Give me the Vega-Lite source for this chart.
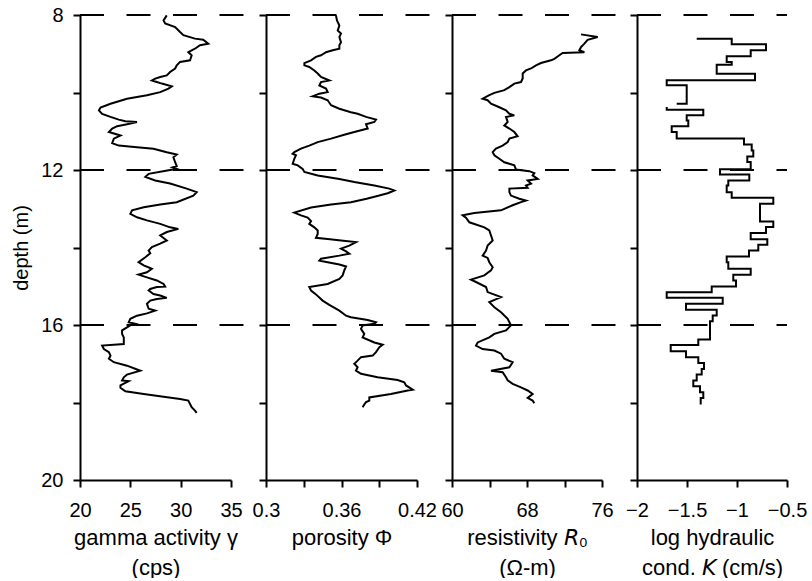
{
  "$schema": "https://vega.github.io/schema/vega-lite/v6.json",
  "padding": {"left": 11, "top": 5, "right": 5, "bottom": 0},
  "config": {
    "font": "Liberation Sans",
    "view": {"stroke": null},
    "axis": {"domainColor": "#000", "domainWidth": 2, "tickColor": "#000", "tickWidth": 2, "tickSize": 7, "labelColor": "#000", "titleColor": "#000", "labelFontSize": 20, "titleFontSize": 22, "titleFontWeight": "normal", "grid": false, "labelFlush": false, "labelOverlap": false},
    "axisX": {"labelPadding": 13, "titlePadding": 7, "titleLineHeight": 30, "titleColor": "#000"},
    "axisY": {"labelPadding": 10, "titlePadding": 9, "titleFontSize": 20, "titleColor": "#000"}
  },
  "datasets": {
    "dash": [{"d": 8}, {"d": 12}, {"d": 16}],
    "gamma": [
      {"d":8.01,"v":28.62},{"d":8.14,"v":28.30},{"d":8.22,"v":28.46},{"d":8.31,"v":29.45},{"d":8.44,"v":29.94},{"d":8.52,"v":30.27},{"d":8.61,"v":31.42},{"d":8.64,"v":32.24},{"d":8.74,"v":32.74},{"d":8.78,"v":31.92},{"d":8.87,"v":31.42},{"d":8.91,"v":31.09},{"d":8.96,"v":30.76},{"d":9.04,"v":31.09},{"d":9.17,"v":30.93},{"d":9.21,"v":29.94},{"d":9.30,"v":29.61},{"d":9.38,"v":29.45},{"d":9.47,"v":28.95},{"d":9.56,"v":28.62},{"d":9.60,"v":27.97},{"d":9.64,"v":27.47},{"d":9.69,"v":27.14},{"d":9.73,"v":27.63},{"d":9.77,"v":28.13},{"d":9.84,"v":29.12},{"d":9.90,"v":28.79},{"d":9.99,"v":27.97},{"d":10.07,"v":26.65},{"d":10.16,"v":24.67},{"d":10.29,"v":23.03},{"d":10.39,"v":22.04},{"d":10.46,"v":21.88},{"d":10.55,"v":22.20},{"d":10.63,"v":23.03},{"d":10.70,"v":23.85},{"d":10.74,"v":24.51},{"d":10.76,"v":25.66},{"d":10.82,"v":24.67},{"d":10.87,"v":23.69},{"d":10.93,"v":23.20},{"d":11.02,"v":22.87},{"d":11.06,"v":23.36},{"d":11.11,"v":24.02},{"d":11.19,"v":23.36},{"d":11.31,"v":23.20},{"d":11.37,"v":23.85},{"d":11.41,"v":25.66},{"d":11.45,"v":27.30},{"d":11.54,"v":28.62},{"d":11.60,"v":29.61},{"d":11.67,"v":29.28},{"d":11.80,"v":29.45},{"d":11.90,"v":29.61},{"d":11.93,"v":29.20},{"d":11.97,"v":29.60},{"d":12.10,"v":26.82},{"d":12.18,"v":26.49},{"d":12.27,"v":27.47},{"d":12.35,"v":28.95},{"d":12.48,"v":30.60},{"d":12.57,"v":31.59},{"d":12.66,"v":31.26},{"d":12.83,"v":29.61},{"d":12.89,"v":27.97},{"d":12.96,"v":26.33},{"d":13.04,"v":25.17},{"d":13.13,"v":25.00},{"d":13.22,"v":25.66},{"d":13.30,"v":26.65},{"d":13.39,"v":27.97},{"d":13.48,"v":28.95},{"d":13.52,"v":29.77},{"d":13.60,"v":28.62},{"d":13.69,"v":27.97},{"d":13.82,"v":28.62},{"d":13.90,"v":27.97},{"d":13.99,"v":27.14},{"d":14.08,"v":26.82},{"d":14.15,"v":26.98},{"d":14.25,"v":26.49},{"d":14.38,"v":25.82},{"d":14.46,"v":26.33},{"d":14.55,"v":27.14},{"d":14.64,"v":26.65},{"d":14.70,"v":25.82},{"d":14.77,"v":26.65},{"d":14.85,"v":27.63},{"d":14.94,"v":28.30},{"d":15.01,"v":28.46},{"d":15.02,"v":27.63},{"d":15.07,"v":26.98},{"d":15.11,"v":26.82},{"d":15.20,"v":27.30},{"d":15.24,"v":27.97},{"d":15.30,"v":28.62},{"d":15.33,"v":27.63},{"d":15.37,"v":26.98},{"d":15.45,"v":26.65},{"d":15.58,"v":26.82},{"d":15.63,"v":27.47},{"d":15.70,"v":26.65},{"d":15.76,"v":25.66},{"d":15.84,"v":25.00},{"d":15.93,"v":24.84},{"d":15.97,"v":25.50},{"d":16.01,"v":25.00},{"d":16.06,"v":24.67},{"d":16.14,"v":24.18},{"d":16.23,"v":24.18},{"d":16.32,"v":24.35},{"d":16.49,"v":24.35},{"d":16.53,"v":22.20},{"d":16.62,"v":22.37},{"d":16.70,"v":22.87},{"d":16.79,"v":23.03},{"d":16.87,"v":22.87},{"d":16.96,"v":23.36},{"d":17.05,"v":24.67},{"d":17.18,"v":25.99},{"d":17.28,"v":24.67},{"d":17.35,"v":24.35},{"d":17.43,"v":24.18},{"d":17.45,"v":24.84},{"d":17.56,"v":24.02},{"d":17.62,"v":24.02},{"d":17.71,"v":24.51},{"d":17.78,"v":26.33},{"d":17.85,"v":28.30},{"d":17.91,"v":29.94},{"d":17.95,"v":30.76},{"d":18.04,"v":30.93},{"d":18.12,"v":31.09},{"d":18.21,"v":31.42},{"d":18.27,"v":31.59}
    ],
    "porosity": [
      {"d":8.01,"v":0.3556},{"d":8.14,"v":0.3564},{"d":8.27,"v":0.3583},{"d":8.40,"v":0.3570},{"d":8.48,"v":0.3596},{"d":8.57,"v":0.3583},{"d":8.70,"v":0.3596},{"d":8.78,"v":0.3583},{"d":8.87,"v":0.3583},{"d":8.91,"v":0.3530},{"d":8.96,"v":0.3477},{"d":9.04,"v":0.3437},{"d":9.08,"v":0.3397},{"d":9.17,"v":0.3358},{"d":9.24,"v":0.3305},{"d":9.30,"v":0.3305},{"d":9.34,"v":0.3344},{"d":9.43,"v":0.3384},{"d":9.51,"v":0.3411},{"d":9.60,"v":0.3437},{"d":9.69,"v":0.3503},{"d":9.73,"v":0.3437},{"d":9.82,"v":0.3424},{"d":9.90,"v":0.3477},{"d":9.99,"v":0.3490},{"d":10.03,"v":0.3424},{"d":10.10,"v":0.3371},{"d":10.13,"v":0.3437},{"d":10.20,"v":0.3490},{"d":10.33,"v":0.3517},{"d":10.42,"v":0.3583},{"d":10.51,"v":0.3675},{"d":10.55,"v":0.3728},{"d":10.63,"v":0.3795},{"d":10.70,"v":0.3874},{"d":10.76,"v":0.3861},{"d":10.82,"v":0.3795},{"d":10.93,"v":0.3808},{"d":11.02,"v":0.3702},{"d":11.09,"v":0.3622},{"d":11.19,"v":0.3517},{"d":11.28,"v":0.3411},{"d":11.37,"v":0.3344},{"d":11.45,"v":0.3278},{"d":11.54,"v":0.3225},{"d":11.58,"v":0.3212},{"d":11.62,"v":0.3238},{"d":11.71,"v":0.3225},{"d":11.84,"v":0.3212},{"d":11.88,"v":0.3252},{"d":11.97,"v":0.3291},{"d":12.05,"v":0.3305},{"d":12.14,"v":0.3411},{"d":12.23,"v":0.3583},{"d":12.31,"v":0.3702},{"d":12.40,"v":0.3861},{"d":12.48,"v":0.3980},{"d":12.53,"v":0.4020},{"d":12.60,"v":0.3967},{"d":12.66,"v":0.3900},{"d":12.74,"v":0.3800},{"d":12.83,"v":0.3675},{"d":12.89,"v":0.3517},{"d":12.97,"v":0.3358},{"d":13.10,"v":0.3225},{"d":13.17,"v":0.3278},{"d":13.23,"v":0.3331},{"d":13.32,"v":0.3358},{"d":13.39,"v":0.3344},{"d":13.48,"v":0.3384},{"d":13.56,"v":0.3411},{"d":13.65,"v":0.3411},{"d":13.75,"v":0.3397},{"d":13.78,"v":0.3490},{"d":13.82,"v":0.3596},{"d":13.86,"v":0.3715},{"d":13.95,"v":0.3662},{"d":14.03,"v":0.3596},{"d":14.10,"v":0.3636},{"d":14.16,"v":0.3662},{"d":14.21,"v":0.3583},{"d":14.29,"v":0.3437},{"d":14.34,"v":0.3424},{"d":14.38,"v":0.3490},{"d":14.44,"v":0.3583},{"d":14.49,"v":0.3636},{"d":14.59,"v":0.3622},{"d":14.72,"v":0.3609},{"d":14.81,"v":0.3583},{"d":14.94,"v":0.3490},{"d":15.02,"v":0.3344},{"d":15.11,"v":0.3358},{"d":15.21,"v":0.3397},{"d":15.37,"v":0.3450},{"d":15.48,"v":0.3503},{"d":15.63,"v":0.3583},{"d":15.76,"v":0.3636},{"d":15.80,"v":0.3675},{"d":15.87,"v":0.3808},{"d":15.93,"v":0.3874},{"d":15.97,"v":0.3861},{"d":16.01,"v":0.3768},{"d":16.10,"v":0.3755},{"d":16.23,"v":0.3781},{"d":16.32,"v":0.3768},{"d":16.45,"v":0.3861},{"d":16.51,"v":0.3927},{"d":16.57,"v":0.3901},{"d":16.70,"v":0.3874},{"d":16.79,"v":0.3848},{"d":16.83,"v":0.3755},{"d":16.92,"v":0.3728},{"d":17.00,"v":0.3702},{"d":17.09,"v":0.3728},{"d":17.18,"v":0.3715},{"d":17.26,"v":0.3755},{"d":17.35,"v":0.3887},{"d":17.42,"v":0.4046},{"d":17.48,"v":0.4099},{"d":17.56,"v":0.4113},{"d":17.67,"v":0.4166},{"d":17.69,"v":0.4126},{"d":17.78,"v":0.3993},{"d":17.87,"v":0.3821},{"d":17.95,"v":0.3821},{"d":17.99,"v":0.3795},{"d":18.05,"v":0.3781},{"d":18.12,"v":0.3768}
    ],
    "resistivity": [
      {"d":8.50,"v":73.76},{"d":8.57,"v":75.54},{"d":8.64,"v":74.47},{"d":8.74,"v":74.12},{"d":8.83,"v":73.76},{"d":8.91,"v":73.58},{"d":8.96,"v":74.12},{"d":8.98,"v":71.80},{"d":9.04,"v":71.45},{"d":9.13,"v":70.92},{"d":9.17,"v":70.56},{"d":9.24,"v":69.49},{"d":9.30,"v":68.96},{"d":9.38,"v":68.43},{"d":9.43,"v":67.89},{"d":9.51,"v":67.54},{"d":9.64,"v":67.54},{"d":9.73,"v":67.36},{"d":9.77,"v":66.65},{"d":9.86,"v":66.12},{"d":9.94,"v":65.58},{"d":10.01,"v":64.52},{"d":10.07,"v":63.98},{"d":10.16,"v":63.27},{"d":10.20,"v":63.80},{"d":10.29,"v":64.16},{"d":10.38,"v":65.05},{"d":10.46,"v":65.76},{"d":10.55,"v":66.12},{"d":10.59,"v":66.65},{"d":10.63,"v":65.76},{"d":10.76,"v":65.94},{"d":10.85,"v":65.58},{"d":10.93,"v":66.12},{"d":11.02,"v":66.65},{"d":11.13,"v":67.00},{"d":11.19,"v":66.12},{"d":11.28,"v":65.94},{"d":11.37,"v":65.40},{"d":11.45,"v":64.69},{"d":11.54,"v":64.34},{"d":11.62,"v":64.52},{"d":11.71,"v":65.05},{"d":11.80,"v":65.58},{"d":11.84,"v":66.12},{"d":11.88,"v":66.65},{"d":11.99,"v":66.83},{"d":12.03,"v":68.25},{"d":12.08,"v":68.78},{"d":12.14,"v":68.60},{"d":12.23,"v":69.14},{"d":12.27,"v":68.07},{"d":12.35,"v":68.43},{"d":12.40,"v":67.89},{"d":12.46,"v":68.07},{"d":12.48,"v":66.12},{"d":12.57,"v":66.12},{"d":12.66,"v":66.29},{"d":12.74,"v":67.18},{"d":12.79,"v":67.89},{"d":12.83,"v":67.36},{"d":12.91,"v":66.47},{"d":13.04,"v":65.23},{"d":13.11,"v":62.38},{"d":13.17,"v":61.14},{"d":13.23,"v":61.49},{"d":13.35,"v":61.85},{"d":13.48,"v":63.45},{"d":13.56,"v":63.98},{"d":13.69,"v":64.16},{"d":13.82,"v":64.34},{"d":13.95,"v":63.80},{"d":14.08,"v":63.63},{"d":14.21,"v":63.27},{"d":14.27,"v":63.80},{"d":14.38,"v":63.98},{"d":14.51,"v":64.34},{"d":14.59,"v":64.16},{"d":14.72,"v":63.45},{"d":14.83,"v":62.03},{"d":14.89,"v":62.56},{"d":15.02,"v":63.63},{"d":15.15,"v":63.80},{"d":15.28,"v":65.23},{"d":15.41,"v":63.98},{"d":15.54,"v":64.52},{"d":15.67,"v":65.23},{"d":15.84,"v":65.94},{"d":16.01,"v":66.29},{"d":16.14,"v":65.76},{"d":16.23,"v":64.52},{"d":16.32,"v":63.98},{"d":16.45,"v":62.74},{"d":16.53,"v":62.56},{"d":16.62,"v":63.27},{"d":16.66,"v":64.52},{"d":16.74,"v":65.23},{"d":16.87,"v":65.58},{"d":16.96,"v":66.47},{"d":17.09,"v":66.12},{"d":17.18,"v":64.16},{"d":17.22,"v":65.40},{"d":17.35,"v":65.76},{"d":17.43,"v":65.94},{"d":17.52,"v":66.47},{"d":17.61,"v":67.36},{"d":17.69,"v":68.07},{"d":17.78,"v":68.60},{"d":17.88,"v":68.07},{"d":17.95,"v":68.60},{"d":18.02,"v":68.78}
    ],
    "logk": [
      {"d":8.61,"v":-1.403,"s":1},{"d":8.61,"v":-1.053,"s":1},{"d":8.757,"v":-0.710,"s":1},{"d":8.912,"v":-0.863,"s":1},{"d":9.067,"v":-1.103,"s":1},{"d":9.213,"v":-1.053,"s":1},{"d":9.282,"v":-1.203,"s":1},{"d":9.514,"v":-0.820,"s":1},{"d":9.686,"v":-1.703,"s":1},{"d":9.816,"v":-1.503,"s":1},{"d":10.289,"v":-1.603,"s":1},
      {"d":10.376,"v":-1.703,"s":2},{"d":10.443,"v":-1.337,"s":2},{"d":10.590,"v":-1.503,"s":2},{"d":10.72,"v":-1.487,"s":2},{"d":10.874,"v":-1.653,"s":2},{"d":11.02,"v":-1.603,"s":2},{"d":11.19,"v":-0.930,"s":2},{"d":11.339,"v":-0.853,"s":2},{"d":11.494,"v":-0.837,"s":2},{"d":11.649,"v":-0.897,"s":2},{"d":11.796,"v":-0.863,"s":2},{"d":11.98,"v":-1.170,"s":2},{"d":12.114,"v":-0.877,"s":2},{"d":12.269,"v":-1.087,"s":2},{"d":12.398,"v":-1.103,"s":2},{"d":12.571,"v":-1.053,"s":2},{"d":12.717,"v":-0.637,"s":2},{"d":12.872,"v":-0.770,"s":2},{"d":13.328,"v":-0.637,"s":2},{"d":13.474,"v":-0.710,"s":2},{"d":13.629,"v":-0.863,"s":2},{"d":13.784,"v":-0.697,"s":2},{"d":13.930,"v":-0.787,"s":2},{"d":14.077,"v":-0.880,"s":2},{"d":14.232,"v":-1.103,"s":2},{"d":14.378,"v":-1.087,"s":2},{"d":14.550,"v":-0.863,"s":2},{"d":14.705,"v":-1.037,"s":2},{"d":14.852,"v":-1.010,"s":2},{"d":15.007,"v":-1.253,"s":2},{"d":15.153,"v":-1.703,"s":2},{"d":15.299,"v":-1.143,"s":2},{"d":15.454,"v":-1.510,"s":2},{"d":15.609,"v":-1.203,"s":2},{"d":15.756,"v":-1.243,"s":2},{"d":15.902,"v":-1.270,"s":2},{"d":16.376,"v":-1.387,"s":2},{"d":16.513,"v":-1.663,"s":2},{"d":16.677,"v":-1.510,"s":2},{"d":16.832,"v":-1.387,"s":2},{"d":16.978,"v":-1.330,"s":2},{"d":17.133,"v":-1.353,"s":2},{"d":17.280,"v":-1.403,"s":2},{"d":17.434,"v":-1.437,"s":2},{"d":17.581,"v":-1.370,"s":2},{"d":17.736,"v":-1.337,"s":2},{"d":17.882,"v":-1.363,"s":2},{"d":18.054,"v":-1.363,"s":2}
    ]
  },
  "spacing": 35,
  "bounds": "flush",
  "hconcat": [
    {
      "width": 151, "height": 465,
      "layer": [
        {
          "data": {"name": "dash"},
          "mark": {"type": "rule", "strokeDash": [24, 22.5], "strokeWidth": 2, "color": "#000"},
          "encoding": {
            "y": {"field": "d", "type": "quantitative", "scale": {"domain": [8, 20], "reverse": true, "nice": false, "zero": false}, "axis": {"values": [8,10,12,14,16,18,20], "labelExpr": "datum.value % 4 == 0 ? datum.label : ''", "title": "depth (m)"}},
            "x": {"datum": 20, "type": "quantitative", "scale": {"domain": [20, 35], "nice": false, "zero": false}, "axis": {"values": [20,25,30,35], "title": ["gamma activity γ", "(cps)"]}},
            "x2": {"datum": 38.48}
          }
        },
        {
          "data": {"name": "gamma"},
          "mark": {"type": "line", "color": "#000", "strokeWidth": 2},
          "encoding": {
            "y": {"field": "d", "type": "quantitative", "axis": {"values": [8,10,12,14,16,18,20], "labelExpr": "datum.value % 4 == 0 ? datum.label : ''", "title": "depth (m)"}},
            "x": {"field": "v", "type": "quantitative", "axis": {"values": [20,25,30,35], "title": ["gamma activity γ", "(cps)"]}},
            "order": {"field": "d", "type": "quantitative"}
          }
        }
      ]
    },
    {
      "width": 151, "height": 465,
      "layer": [
        {
          "data": {"name": "dash"},
          "mark": {"type": "rule", "strokeDash": [24, 22.5], "strokeWidth": 2, "color": "#000"},
          "encoding": {
            "y": {"field": "d", "type": "quantitative", "scale": {"domain": [8, 20], "reverse": true, "nice": false, "zero": false}, "axis": {"values": [8,10,12,14,16,18,20], "labels": false, "title": null}},
            "x": {"datum": 0.3, "type": "quantitative", "scale": {"domain": [0.3, 0.42], "nice": false, "zero": false}, "axis": {"values": [0.3,0.33,0.36,0.39,0.42], "format": "~g", "labelExpr": "abs(datum.value-0.33)<0.001 || abs(datum.value-0.39)<0.001 ? '' : datum.label", "title": "porosity Φ"}},
            "x2": {"datum": 0.4478}
          }
        },
        {
          "data": {"name": "porosity"},
          "mark": {"type": "line", "color": "#000", "strokeWidth": 2},
          "encoding": {
            "y": {"field": "d", "type": "quantitative", "axis": {"values": [8,10,12,14,16,18,20], "labels": false, "title": null}},
            "x": {"field": "v", "type": "quantitative", "axis": {"values": [0.3,0.33,0.36,0.39,0.42], "format": "~g", "labelExpr": "abs(datum.value-0.33)<0.001 || abs(datum.value-0.39)<0.001 ? '' : datum.label", "title": "porosity Φ"}},
            "order": {"field": "d", "type": "quantitative"}
          }
        }
      ]
    },
    {
      "width": 150, "height": 465,
      "layer": [
        {
          "data": {"name": "dash"},
          "mark": {"type": "rule", "strokeDash": [24, 22.5], "strokeWidth": 2, "color": "#000"},
          "encoding": {
            "y": {"field": "d", "type": "quantitative", "scale": {"domain": [8, 20], "reverse": true, "nice": false, "zero": false}, "axis": {"values": [8,10,12,14,16,18,20], "labels": false, "title": null}},
            "x": {"datum": 60, "type": "quantitative", "scale": {"domain": [60, 76], "nice": false, "zero": false}, "axis": {"values": [60,64,68,72,76], "labelExpr": "datum.value % 8 == 0 ? '' : datum.label", "title": ["resistivity 𝘙₀", "(Ω-m)"]}},
            "x2": {"datum": 79.73}
          }
        },
        {
          "data": {"name": "resistivity"},
          "mark": {"type": "line", "color": "#000", "strokeWidth": 2},
          "encoding": {
            "y": {"field": "d", "type": "quantitative", "axis": {"values": [8,10,12,14,16,18,20], "labels": false, "title": null}},
            "x": {"field": "v", "type": "quantitative", "axis": {"values": [60,64,68,72,76], "labelExpr": "datum.value % 8 == 0 ? '' : datum.label", "title": ["resistivity 𝘙₀", "(Ω-m)"]}},
            "order": {"field": "d", "type": "quantitative"}
          }
        }
      ]
    },
    {
      "width": 150, "height": 465,
      "layer": [
        {
          "data": {"name": "dash"},
          "mark": {"type": "rule", "strokeDash": [24, 22.5], "strokeWidth": 2, "color": "#000"},
          "encoding": {
            "y": {"field": "d", "type": "quantitative", "scale": {"domain": [8, 20], "reverse": true, "nice": false, "zero": false}, "axis": {"values": [8,10,12,14,16,18,20], "labels": false, "title": null}},
            "x": {"datum": -2, "type": "quantitative", "scale": {"domain": [-2, -0.5], "nice": false, "zero": false}, "axis": {"values": [-2,-1.5,-1,-0.5], "format": "~g", "title": ["log hydraulic", "cond. 𝘒 (cm/s)"]}},
            "x2": {"datum": -0.5}
          }
        },
        {
          "data": {"name": "logk"},
          "mark": {"type": "line", "color": "#000", "strokeWidth": 2, "interpolate": "step-before"},
          "encoding": {
            "y": {"field": "d", "type": "quantitative", "axis": {"values": [8,10,12,14,16,18,20], "labels": false, "title": null}},
            "x": {"field": "v", "type": "quantitative", "axis": {"values": [-2,-1.5,-1,-0.5], "format": "~g", "title": ["log hydraulic", "cond. 𝘒 (cm/s)"]}},
            "detail": {"field": "s", "type": "nominal"},
            "order": {"field": "d", "type": "quantitative"}
          }
        }
      ]
    }
  ]
}
